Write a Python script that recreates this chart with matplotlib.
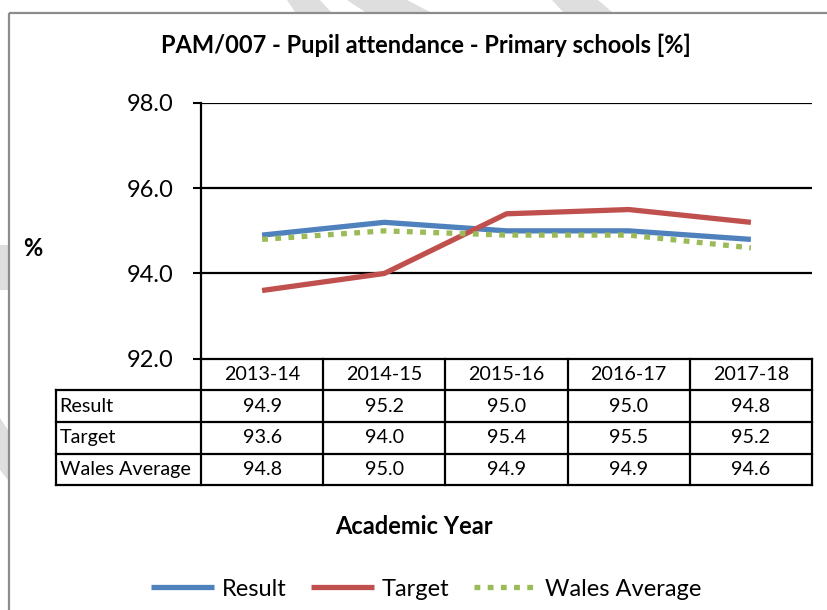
import matplotlib.pyplot as plt
from matplotlib.transforms import blended_transform_factory
from matplotlib.patches import Polygon, Rectangle
from matplotlib.lines import Line2D

# data
years = ["2013-14", "2014-15", "2015-16", "2016-17", "2017-18"]
result = [94.9, 95.2, 95.0, 95.0, 94.8]
target = [93.6, 94.0, 95.4, 95.5, 95.2]
wales_avg = [94.8, 95.0, 94.9, 94.9, 94.6]
series_names = ["Result", "Target", "Wales Average"]
yticks = [92.0, 94.0, 96.0, 98.0]

colors = ["#4F81BD", "#C0504D", "#9BBB59"]
plt.rcParams['font.family'] = ['Lato', 'DejaVu Sans']

W, H = 827, 610
fig = plt.figure(figsize=(W / 100, H / 100), dpi=100)

# background layer in pixel coords (watermark bits + chart border)
bg = fig.add_axes([0, 0, 1, 1], zorder=-5)
bg.set_xlim(0, W)
bg.set_ylim(H, 0)
bg.axis("off")
wm = "#dedede"
for pts in [
    [(287, 0), (320, 0), (331, 12), (295, 12)],
    [(347, 0), (407, 0), (430, 12), (365, 12)],
    [(552, 0), (598, 0), (612, 12), (563, 12)],
    [(0, 245), (8, 245), (8, 290), (0, 290)],
    [(0, 418), (8, 430), (8, 480), (0, 470)],
]:
    bg.add_patch(Polygon(pts, closed=True, color=wm, lw=0))
bg.add_patch(Rectangle((9, 12.5), W + 20, H + 20, fill=False, ec="#8c8c8c", lw=1.6))

# plot area
x0, x1 = 201, 812
ytop, ybot = 103, 358.7
ax = fig.add_axes([x0 / W, 1 - ybot / H, (x1 - x0) / W, (ybot - ytop) / H])
xs = list(range(len(years)))
ax.set_xlim(-0.5, len(years) - 0.5)
ax.set_ylim(yticks[0], yticks[-1])
ax.set_yticks(yticks)
ax.set_yticklabels([f"{v:.1f}" for v in yticks], fontsize=17)
ax.set_xticks([])
ax.tick_params(axis="y", direction="out", length=6, width=1.5, pad=14)
for s in ["top", "right", "bottom"]:
    ax.spines[s].set_visible(False)
ax.spines["left"].set_linewidth(1.6)
for v in yticks[1:]:
    ax.axhline(v, color="black", lw=1.6, zorder=1)

ax.plot(xs, result, color=colors[0], lw=3.8, solid_capstyle="butt", zorder=3)
ax.plot(xs, target, color=colors[1], lw=3.8, solid_capstyle="butt", zorder=4)
ax.plot(xs, wales_avg, color=colors[2], lw=3.8, dashes=(1.1, 1.4),
        dash_capstyle="butt", zorder=5)

# data table under the plot
tr = blended_transform_factory(ax.transData, ax.transAxes)
ph = ybot - ytop
row_px = 31.7
rows = [result, target, wales_avg]
nrow = len(rows) + 1
label_left = -0.5 - (x0 - 56) / ((x1 - x0) / len(years))
yb = [-(i * row_px) / ph for i in range(nrow + 1)]
kw = dict(color="black", lw=1.6, transform=tr, clip_on=False)
# horizontal lines
ax.plot([-0.5, len(years) - 0.5], [0, 0], **kw)
for i in range(1, nrow + 1):
    ax.plot([label_left, len(years) - 0.5], [yb[i], yb[i]], **kw)
# vertical lines
for c in range(len(years) + 1):
    ax.plot([c - 0.5, c - 0.5], [0, yb[-1]], **kw)
ax.plot([label_left, label_left], [yb[1], yb[-1]], **kw)

fs = 14.2
for c, yr in enumerate(years):
    ax.text(c, (yb[0] + yb[1]) / 2, yr, transform=tr, ha="center", va="center", fontsize=fs)
for r, (name, vals) in enumerate(zip(series_names, rows)):
    ym = (yb[r + 1] + yb[r + 2]) / 2
    ax.text(label_left + 0.03, ym, name, transform=tr, ha="left", va="center", fontsize=fs)
    for c, v in enumerate(vals):
        ax.text(c, ym, f"{v:.1f}", transform=tr, ha="center", va="center", fontsize=fs)

# titles
fig.text(426 / W, 1 - 45 / H, "PAM/007 - Pupil attendance - Primary schools [%]",
         ha="center", va="center", fontsize=17, fontweight="bold")
fig.text(33 / W, 1 - 248 / H, "%", ha="center", va="center", fontsize=17, fontweight="bold")
fig.text(414 / W, 1 - 526 / H, "Academic Year", ha="center", va="center",
         fontsize=17, fontweight="bold")

# legend
handles = [
    Line2D([], [], color=colors[0], lw=3.8, solid_capstyle="butt"),
    Line2D([], [], color=colors[1], lw=3.8, solid_capstyle="butt"),
    Line2D([], [], color=colors[2], lw=3.8, dashes=(1.1, 1.4), dash_capstyle="butt"),
]
fig.legend(handles, series_names, loc="center", bbox_to_anchor=(426 / W, 1 - 589 / H),
           ncol=3, frameon=False, fontsize=17, handlelength=2.67,
           handletextpad=0.32, columnspacing=1.05)

fig.savefig("out.png", dpi=100)
